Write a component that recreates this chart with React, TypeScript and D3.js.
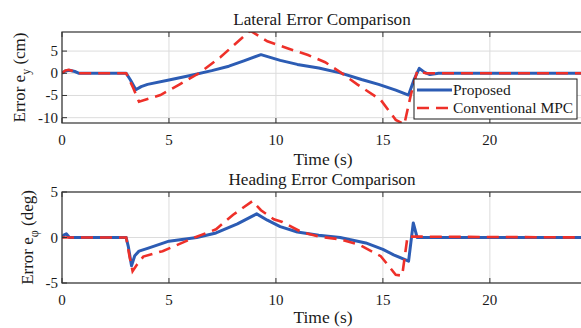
import React, { useEffect, useRef } from "react";
import * as d3 from "d3";

// time axis ticks
const timeTicks = [0, 5, 10, 15, 20];

// lateral error (cm)
const latTicks = [-10, -5, 0, 5];
const latPropT = [0, 0.15, 0.35, 0.6, 0.8, 3.0, 3.2, 3.45, 3.7, 4.0, 5.0, 6.0, 7.0, 7.8, 8.5, 9.3, 10.2, 11.0, 12.0, 13.0, 14.0, 14.8, 15.6, 16.2, 16.45, 16.7, 16.95, 17.2, 17.6, 25];
const latPropV = [0, 0.5, 0.7, 0.4, 0, 0, -1.5, -3.7, -3.0, -2.5, -1.5, -0.5, 0.6, 1.6, 2.8, 4.2, 2.9, 2.0, 1.2, 0.1, -1.4, -2.5, -3.8, -4.9, -1.5, 1.1, 0.2, -0.3, 0, 0];
const latMpcT = [0, 0.15, 0.3, 0.5, 0.7, 3.0, 3.3, 3.6, 4.0, 4.6, 5.5, 6.4, 7.4, 8.0, 8.8, 9.6, 10.5, 11.5, 12.3, 13.0, 13.8, 14.9, 15.6, 16.0, 16.3, 16.6, 17.0, 25];
const latMpcV = [0, 0.6, 0.8, 0.5, 0, 0, -3.0, -6.4, -5.8, -4.9, -2.5, 0, 3.6, 6.2, 9.6, 7.2, 5.7, 4.1, 2.5, 0.3, -2.5, -6.0, -10.5, -11.5, -5, 0.5, 0, 0];

// heading error (deg)
const headTicks = [-5, 0, 5];
const headPropT = [0, 0.1, 0.2, 0.35, 3.0, 3.1, 3.25, 3.4, 3.6, 4.0, 5.0, 6.3, 7.2, 8.2, 9.1, 9.6, 10.2, 11.0, 12.0, 13.0, 14.2, 15.0, 15.5, 16.2, 16.42, 16.6, 25];
const headPropV = [0, 0.3, 0.4, 0, 0, -1.0, -3.1, -2.0, -1.5, -1.2, -0.4, 0, 0.5, 1.5, 2.6, 1.9, 1.2, 0.6, 0.25, 0, -0.6, -1.3, -1.9, -2.6, 1.6, 0, 0];
const headMpcT = [0, 3.0, 3.15, 3.3, 3.5, 3.8, 4.7, 5.2, 6.2, 7.2, 8.0, 8.9, 9.3, 9.9, 10.3, 11.2, 12.0, 13.0, 13.9, 14.9, 15.6, 15.9, 16.15, 25];
const headMpcV = [0, 0, -2.0, -3.7, -3.0, -2.1, -1.5, -1.0, 0, 0.9, 2.5, 4.0, 3.0, 2.0, 1.7, 0.6, 0.1, -0.2, -0.8, -2.05, -4.1, -4.2, 0.1, 0];

const seriesNames = ["Proposed", "Conventional MPC"];

const BLUE = "#2c5cb4";
const RED = "#ee3029";
const INK = "#1a1a1a";
const FONT = "'Liberation Serif', 'Times New Roman', serif";

function zip(t: number[], v: number[]) {
  return t.map((d, i) => [d, v[i]] as [number, number]);
}

function drawPanel(svg, opts) {
  const { top, bottom, left, right, yDomain, yTicks, title, yLabel, yLabelX, blue, red, legend, xLabelY } = opts;
  const x = d3.scaleLinear().domain([0, 24.4]).range([left, right]);
  const y = d3.scaleLinear().domain(yDomain).range([bottom, top]);
  const g = svg.append("g");

  const clipId = "clip" + top;
  g.append("clipPath").attr("id", clipId).append("rect").attr("x", left).attr("y", top).attr("width", right - left).attr("height", bottom - top);

  // grid
  g.selectAll("line.gx").data(timeTicks).enter().append("line")
    .attr("x1", (d) => x(d)).attr("x2", (d) => x(d)).attr("y1", top).attr("y2", bottom)
    .attr("stroke", "#dcdcdc").attr("stroke-width", 1);
  g.selectAll("line.gy").data(yTicks).enter().append("line")
    .attr("x1", left).attr("x2", right).attr("y1", (d) => y(d)).attr("y2", (d) => y(d))
    .attr("stroke", "#dcdcdc").attr("stroke-width", 1);

  const line = d3.line<[number, number]>().x((d) => x(d[0])).y((d) => y(d[1]));
  const lines = g.append("g").attr("clip-path", `url(#${clipId})`);
  lines.append("path").attr("d", line(blue)).attr("fill", "none").attr("stroke", BLUE).attr("stroke-width", 3).attr("stroke-linejoin", "round");
  lines.append("path").attr("d", line(red)).attr("fill", "none").attr("stroke", RED).attr("stroke-width", 2.6).attr("stroke-dasharray", "12,7");

  // box
  g.append("rect").attr("x", left).attr("y", top).attr("width", right - left).attr("height", bottom - top)
    .attr("fill", "none").attr("stroke", "#333").attr("stroke-width", 1.2);

  // ticks (inward, bottom and top)
  timeTicks.forEach((t) => {
    g.append("line").attr("x1", x(t)).attr("x2", x(t)).attr("y1", bottom).attr("y2", bottom - 5).attr("stroke", "#333");
    g.append("line").attr("x1", x(t)).attr("x2", x(t)).attr("y1", top).attr("y2", top + 5).attr("stroke", "#333");
  });
  yTicks.forEach((t) => {
    g.append("line").attr("x1", left).attr("x2", left + 5).attr("y1", y(t)).attr("y2", y(t)).attr("stroke", "#333");
  });

  g.selectAll("text.xt").data(timeTicks).enter().append("text")
    .attr("x", (d) => x(d)).attr("y", bottom + 22).attr("text-anchor", "middle")
    .attr("font-family", FONT).attr("font-size", 15).attr("fill", INK).text((d) => d);
  g.selectAll("text.yt").data(yTicks).enter().append("text")
    .attr("x", left - 4).attr("y", (d) => y(d) + 5).attr("text-anchor", "end")
    .attr("font-family", FONT).attr("font-size", 15).attr("fill", INK).text((d) => d);

  const cx = (left + right) / 2;
  g.append("text").attr("x", cx - 1).attr("y", top - 7).attr("text-anchor", "middle")
    .attr("font-family", FONT).attr("font-size", 17.2).attr("fill", INK).text(title);
  g.append("text").attr("x", cx).attr("y", xLabelY).attr("text-anchor", "middle")
    .attr("font-family", FONT).attr("font-size", 17.5).attr("fill", INK).text("Time (s)");

  const yl = g.append("text")
    .attr("transform", `translate(${yLabelX},${(top + bottom) / 2}) rotate(-90)`)
    .attr("text-anchor", "middle").attr("font-family", FONT).attr("font-size", 17).attr("fill", INK);
  yl.append("tspan").text("Error e");
  yl.append("tspan").attr("font-size", 12).attr("dy", 5).text(yLabel[0]);
  yl.append("tspan").attr("dy", -5).text(" " + yLabel[1]);

  if (legend) {
    const lx = 414;
    const ly = 79;
    const lg = g.append("g");
    lg.append("rect").attr("x", lx).attr("y", ly).attr("width", 163).attr("height", 40)
      .attr("fill", "white").attr("stroke", INK).attr("stroke-width", 1);
    seriesNames.forEach((name, i) => {
      const yy = ly + 11 + i * 18;
      lg.append("line").attr("x1", lx + 3).attr("x2", lx + 38).attr("y1", yy).attr("y2", yy)
        .attr("stroke", i === 0 ? BLUE : RED).attr("stroke-width", i === 0 ? 3 : 2.6)
        .attr("stroke-dasharray", i === 0 ? null : "12,7");
      lg.append("text").attr("x", lx + 39).attr("y", yy + 5).attr("font-family", FONT)
        .attr("font-size", 15.5).attr("fill", INK).text(name);
    });
  }
}

export default function App() {
  const ref = useRef<SVGSVGElement>(null);
  useEffect(() => {
    const svg = d3.select(ref.current);
    svg.selectAll("*").remove();
    drawPanel(svg, {
      top: 32, bottom: 123, left: 62, right: 584,
      yDomain: [-11.2, 9.3], yTicks: latTicks,
      title: "Lateral Error Comparison", yLabel: ["y", "(cm)"], yLabelX: 25,
      blue: zip(latPropT, latPropV), red: zip(latMpcT, latMpcV), legend: true, xLabelY: 165,
    });
    drawPanel(svg, {
      top: 192, bottom: 283, left: 62, right: 584,
      yDomain: [-5, 5], yTicks: headTicks,
      title: "Heading Error Comparison", yLabel: ["\u03c6", "(deg)"], yLabelX: 33,
      blue: zip(headPropT, headPropV), red: zip(headMpcT, headMpcV), legend: false, xLabelY: 323,
    });
  }, []);
  return (
    <svg ref={ref} width={581} height={328}
      style={{ position: "fixed", left: 0, top: 0, background: "white", overflow: "hidden" }} />
  );
}
